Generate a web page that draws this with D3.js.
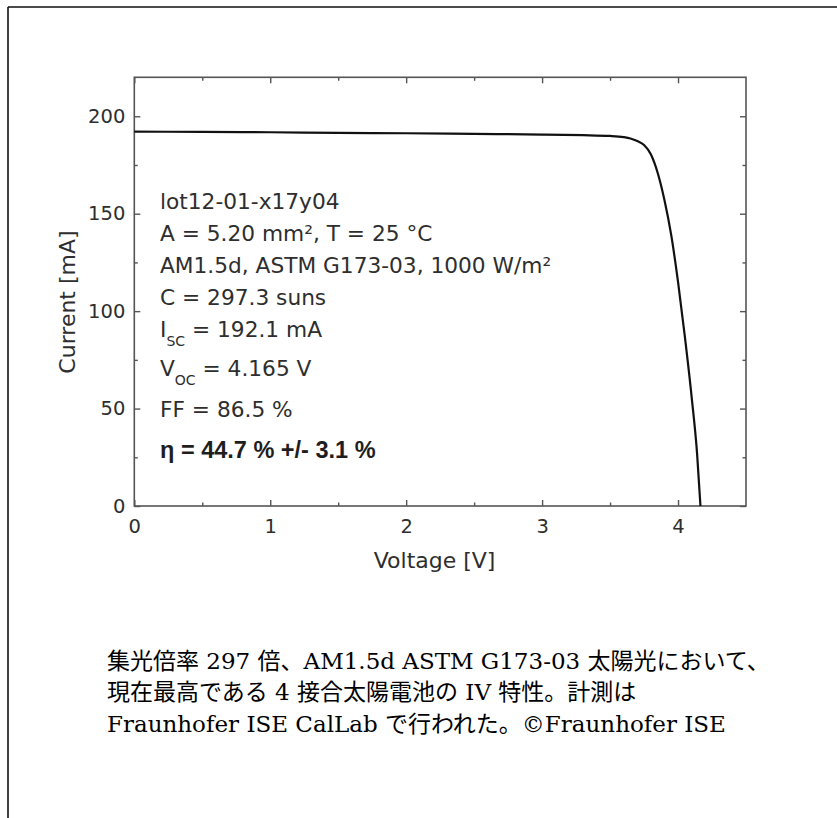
<!DOCTYPE html>
<html lang="ja">
<head>
<meta charset="UTF-8">
<title>IV curve</title>
<script src="https://d3js.org/d3.v7.min.js"></script>
<style>
  body { margin: 0; background: #fff; }
</style>
</head>
<body>
<script>
// IV curve
var voltage = [0, 0.5, 1.0, 1.5, 2.0, 2.5, 3.0, 3.3, 3.5, 3.6, 3.65, 3.7, 3.75, 3.8, 3.85, 3.9, 3.95, 4.0, 4.05, 4.1, 4.14, 4.165];
var current = [192.1, 192.0, 191.8, 191.5, 191.3, 191.0, 190.6, 190.3, 189.9, 189.3, 188.6, 187.3, 185.3, 180.5, 171, 157, 139, 115, 87, 56, 27, 0];

var xTicks = [0, 1, 2, 3, 4];
var xMinor = [0.5, 1.5, 2.5, 3.5];
var yTicks = [0, 50, 100, 150, 200];
var yMinor = [25, 75, 125, 175];

var xTitle = "Voltage [V]";
var yTitle = "Current [mA]";

// each line: list of [text, kind]
var infoLines = [
  [["lot12-01-x17y04", ""]],
  [["A = 5.20 mm\u00b2, T = 25 \u00b0C", ""]],
  [["AM1.5d, ASTM G173-03, 1000 W/m\u00b2", ""]],
  [["C = 297.3 suns", ""]],
  [["I", ""], ["SC", "sub"], [" = 192.1 mA", ""]],
  [["V", ""], ["OC", "sub"], [" = 4.165 V", ""]],
  [["FF = 86.5 %", ""]],
  [["\u03b7 = 44.7 % +/- 3.1 %", "bold"]]
];
var infoBaselines = [209, 241, 273, 305, 337, 376, 417, 458];

var captionLines = [
  "集光倍率 297 倍、AM1.5d ASTM G173-03 太陽光において、",
  "現在最高である 4 接合太陽電池の IV 特性。計測は",
  "Fraunhofer ISE CalLab で行われた。©Fraunhofer ISE"
];

(function(){
  var W = 837, H = 818;
  var m = { left: 134.3, top: 77.3, right: 746, bottom: 506 };
  var sans = "'DejaVu Sans', sans-serif";
  var ink = "#2e2e2e";
  var frame = "#555";

  var svg = d3.select("body").append("svg")
      .attr("width", W)
      .attr("height", H);

  // outer page border (top + left only visible)
  svg.append("line").attr("x1", 8).attr("y1", 7).attr("x2", W).attr("y2", 7)
      .attr("stroke", "#111").attr("stroke-width", 1.6);
  svg.append("line").attr("x1", 8).attr("y1", 7).attr("x2", 8).attr("y2", H)
      .attr("stroke", "#111").attr("stroke-width", 1.6);

  var x = d3.scaleLinear().domain([0, 4.5]).range([m.left, m.right]);
  var y = d3.scaleLinear().domain([0, 220]).range([m.bottom, m.top]);

  function styleAxis(g) {
    g.select(".domain").remove();
    g.selectAll(".tick line").attr("stroke", frame).attr("stroke-width", 1.4);
    g.selectAll(".tick text").attr("fill", ink)
        .style("font-family", sans).style("font-size", "19.5px");
  }

  // major ticks with labels
  svg.append("g").attr("transform", "translate(0," + m.bottom + ")")
      .call(d3.axisBottom(x).tickValues(xTicks).tickSize(-6).tickPadding(13).tickFormat(d3.format("d")))
      .call(styleAxis);
  svg.append("g").attr("transform", "translate(" + m.left + ",0)")
      .call(d3.axisLeft(y).tickValues(yTicks).tickSize(-6).tickPadding(9).tickFormat(d3.format("d")))
      .call(styleAxis);
  // mirrored ticks top / right
  svg.append("g").attr("transform", "translate(0," + m.top + ")")
      .call(d3.axisTop(x).tickValues(xTicks).tickSize(-6).tickFormat(""))
      .call(styleAxis);
  svg.append("g").attr("transform", "translate(" + m.right + ",0)")
      .call(d3.axisRight(y).tickValues(yTicks).tickSize(-6).tickFormat(""))
      .call(styleAxis);
  // minor ticks
  svg.append("g").attr("transform", "translate(0," + m.bottom + ")")
      .call(d3.axisBottom(x).tickValues(xMinor).tickSize(-3.5).tickFormat("")).call(styleAxis);
  svg.append("g").attr("transform", "translate(0," + m.top + ")")
      .call(d3.axisTop(x).tickValues(xMinor).tickSize(-3.5).tickFormat("")).call(styleAxis);
  svg.append("g").attr("transform", "translate(" + m.left + ",0)")
      .call(d3.axisLeft(y).tickValues(yMinor).tickSize(-3.5).tickFormat("")).call(styleAxis);
  svg.append("g").attr("transform", "translate(" + m.right + ",0)")
      .call(d3.axisRight(y).tickValues(yMinor).tickSize(-3.5).tickFormat("")).call(styleAxis);

  // plot frame
  svg.append("rect")
      .attr("x", m.left).attr("y", m.top)
      .attr("width", m.right - m.left).attr("height", m.bottom - m.top)
      .attr("fill", "none").attr("stroke", frame).attr("stroke-width", 1.6);

  // the curve
  var pts = voltage.map(function(v, i){ return [v, current[i]]; });
  var line = d3.line()
      .x(function(d){ return x(d[0]); })
      .y(function(d){ return y(d[1]); })
      .curve(d3.curveMonotoneX);
  svg.append("path")
      .datum(pts)
      .attr("d", line)
      .attr("fill", "none")
      .attr("stroke", "#111")
      .attr("stroke-width", 2.2);

  // axis titles
  svg.append("text")
      .attr("x", 434.6).attr("y", 568)
      .attr("text-anchor", "middle")
      .attr("fill", ink)
      .style("font-family", sans).style("font-size", "22px")
      .text(xTitle);
  svg.append("text")
      .attr("transform", "translate(75,302) rotate(-90)")
      .attr("text-anchor", "middle")
      .attr("fill", ink)
      .style("font-family", sans).style("font-size", "22px")
      .text(yTitle);

  // info block inside the plot
  infoLines.forEach(function(parts, i){
    var t = svg.append("text")
        .attr("x", 160).attr("y", infoBaselines[i])
        .attr("fill", ink)
        .style("font-family", sans).style("font-size", "21.7px");
    parts.forEach(function(p){
      var s = t.append("tspan").text(p[0]);
      if (p[1] === "sub") {
        s.attr("dy", 9).style("font-size", "14px");
      } else if (p[1] === "bold") {
        s.style("font-family", "'Liberation Sans', Arial, sans-serif")
         .style("font-weight", "bold").style("font-size", "23.5px").attr("fill", "#1e1e1e");
      }
      if (p[1] === "" && parts.length > 1 && p !== parts[0]) {
        s.attr("dy", -9);
      }
    });
  });

  // caption below
  svg.selectAll("text.caption")
      .data(captionLines)
      .enter()
      .append("text")
      .attr("class", "caption")
      .attr("x", 107)
      .attr("y", function(d, i){ return 669 + i * 31.3; })
      .attr("fill", "#000")
      .style("font-family", "'DejaVu Serif', 'Noto Sans CJK JP', serif")
      .style("font-size", "23px")
      .text(function(d){ return d; });
})();
</script>
</body>
</html>
